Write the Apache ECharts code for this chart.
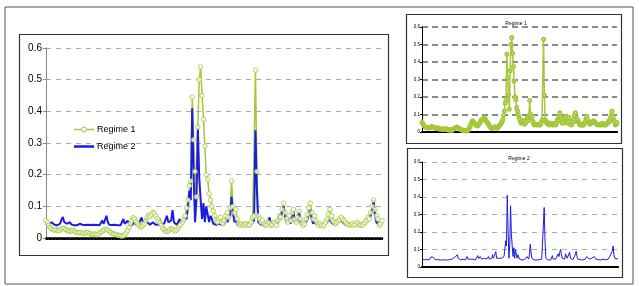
<!DOCTYPE html>
<html>
<head>
<meta charset="utf-8">
<script src="https://cdn.jsdelivr.net/npm/echarts@6/dist/echarts.min.js"></script>
<style>
html,body{margin:0;padding:0;background:#fff;}
#c{width:639px;height:286px;}
</style>
</head>
<body>
<div id="c"></div>
<script>
// ---- data ----
const regime1 = [
0.055,0.048,0.040,0.033,0.028,0.026,0.025,0.027,0.024,0.023,
0.025,0.028,0.031,0.030,0.027,0.024,0.022,0.021,0.023,0.025,
0.022,0.019,0.017,0.016,0.018,0.017,0.015,0.014,0.016,0.018,
0.017,0.014,0.012,0.011,0.013,0.012,0.010,0.012,0.015,0.018,
0.021,0.024,0.026,0.028,0.025,0.022,0.018,0.015,0.013,0.012,
0.011,0.009,0.008,0.007,0.006,0.007,0.010,0.016,0.024,0.033,
0.045,0.056,0.064,0.060,0.052,0.046,0.040,0.036,0.035,0.040,
0.046,0.055,0.066,0.072,0.068,0.075,0.082,0.078,0.070,0.062,
0.055,0.048,0.040,0.032,0.027,0.022,0.020,0.022,0.026,0.030,
0.028,0.024,0.022,0.026,0.032,0.038,0.043,0.050,0.058,0.070,
0.095,0.120,0.165,0.180,0.445,0.310,0.210,0.130,0.350,0.500,
0.540,0.450,0.375,0.290,0.200,0.185,0.140,0.120,0.100,0.085,
0.070,0.055,0.050,0.060,0.065,0.050,0.045,0.055,0.070,0.080,
0.065,0.095,0.180,0.100,0.080,0.090,0.060,0.045,0.040,0.045,
0.042,0.040,0.045,0.043,0.040,0.042,0.050,0.065,0.070,0.530,
0.210,0.070,0.060,0.050,0.055,0.045,0.040,0.042,0.050,0.045,
0.040,0.042,0.050,0.045,0.040,0.055,0.070,0.065,0.090,0.110,
0.080,0.060,0.050,0.070,0.055,0.080,0.090,0.060,0.050,0.065,
0.085,0.060,0.045,0.040,0.045,0.060,0.075,0.095,0.110,0.080,
0.060,0.070,0.055,0.045,0.040,0.045,0.040,0.038,0.042,0.050,
0.060,0.075,0.090,0.070,0.055,0.050,0.045,0.050,0.055,0.060,
0.065,0.060,0.055,0.050,0.045,0.042,0.040,0.042,0.045,0.040,
0.042,0.050,0.045,0.040,0.042,0.040,0.045,0.050,0.055,0.065,
0.060,0.080,0.100,0.120,0.090,0.070,0.060,0.040,0.045,0.055
];
const regime2 = [
0.045,0.042,0.040,0.042,0.050,0.045,0.042,0.048,0.040,0.042,
0.045,0.058,0.066,0.050,0.055,0.045,0.042,0.050,0.043,0.042,
0.040,0.042,0.040,0.041,0.045,0.040,0.042,0.040,0.041,0.040,
0.042,0.040,0.041,0.040,0.042,0.040,0.041,0.046,0.040,0.042,
0.055,0.045,0.048,0.070,0.050,0.042,0.040,0.041,0.040,0.042,
0.045,0.040,0.041,0.040,0.045,0.060,0.045,0.042,0.055,0.045,
0.042,0.040,0.045,0.050,0.042,0.040,0.045,0.050,0.065,0.048,
0.045,0.060,0.050,0.045,0.042,0.045,0.050,0.045,0.042,0.045,
0.042,0.060,0.045,0.042,0.045,0.050,0.070,0.050,0.045,0.055,
0.088,0.050,0.045,0.042,0.050,0.060,0.045,0.050,0.060,0.055,
0.060,0.100,0.150,0.120,0.410,0.200,0.050,0.120,0.350,0.190,
0.120,0.060,0.110,0.050,0.100,0.095,0.050,0.070,0.060,0.045,
0.050,0.042,0.040,0.045,0.050,0.042,0.040,0.045,0.060,0.050,
0.045,0.070,0.130,0.080,0.050,0.060,0.042,0.040,0.040,0.042,
0.040,0.041,0.040,0.042,0.040,0.041,0.045,0.050,0.055,0.340,
0.150,0.050,0.045,0.042,0.040,0.045,0.042,0.040,0.045,0.065,
0.045,0.042,0.050,0.045,0.042,0.050,0.075,0.060,0.085,0.100,
0.070,0.050,0.045,0.060,0.045,0.075,0.085,0.050,0.045,0.055,
0.085,0.050,0.042,0.040,0.042,0.050,0.060,0.075,0.090,0.060,
0.045,0.055,0.045,0.042,0.040,0.042,0.040,0.045,0.042,0.045,
0.050,0.060,0.065,0.050,0.045,0.042,0.045,0.050,0.055,0.060,
0.060,0.050,0.045,0.042,0.040,0.042,0.040,0.041,0.040,0.042,
0.040,0.045,0.042,0.040,0.041,0.040,0.042,0.045,0.050,0.060,
0.055,0.070,0.090,0.120,0.070,0.050,0.045,0.042,0.045,0.050
];
const categories = regime1.map((_, i) => String(i + 1));
const yTicks = [0, 0.1, 0.2, 0.3, 0.4, 0.5, 0.6];
const seriesNames = ['Regime 1', 'Regime 2'];

// ---- styles ----
const GREEN = '#a6c73a';
const BLUE = '#1c1ce0';
const FONT = 'Liberation Sans, Arial, sans-serif';

function xAx(gi, w) {
  return {
    type: 'category', gridIndex: gi, data: categories, boundaryGap: false,
    axisLine: {lineStyle: {color: '#000', width: w}},
    axisTick: {show: true, interval: 0, length: gi === 0 ? 2 : 1, lineStyle: {color: '#000'}},
    axisLabel: {show: false}, splitLine: {show: false}
  };
}
function yAx(gi, fs, axColor, gridColor, gw, dash) {
  return {
    type: 'value', gridIndex: gi, min: yTicks[0], max: yTicks[yTicks.length - 1], interval: 0.1,
    axisLine: {show: true, lineStyle: {color: axColor, width: 1}},
    axisTick: {show: true, length: gi === 0 ? 3 : 2, lineStyle: {color: axColor}},
    axisLabel: {fontSize: fs, color: '#000', fontFamily: FONT, margin: gi === 0 ? 4 : 2,
      formatter: v => String(Math.round(v * 10) / 10)},
    splitLine: {show: true, lineStyle: {color: gridColor, width: gw, type: dash}}
  };
}

const chart = echarts.init(document.getElementById('c'), null, {renderer: 'canvas'});
chart.setOption({
  animation: false,
  backgroundColor: '#fff',
  title: [
    {text: 'Regime 1', left: 511, top: 16, textAlign: 'center',
     textStyle: {fontSize: 5, fontWeight: 'normal', color: '#000', fontFamily: FONT}},
    {text: 'Regime 2', left: 514, top: 151, textAlign: 'center',
     textStyle: {fontSize: 5, fontWeight: 'normal', color: '#000', fontFamily: FONT}}
  ],
  graphic: [
    {type: 'rect', shape: {x: 5, y: 7, width: 628, height: 277}, style: {fill: 'none', stroke: '#555', lineWidth: 1}, silent: true},
    {type: 'rect', shape: {x: 19.5, y: 34.5, width: 369, height: 221}, style: {fill: 'none', stroke: '#333', lineWidth: 1.2}, silent: true},
    {type: 'rect', shape: {x: 406.5, y: 14.5, width: 215, height: 129}, style: {fill: 'none', stroke: '#333', lineWidth: 1.2}, silent: true},
    {type: 'rect', shape: {x: 407.5, y: 148.5, width: 215, height: 129}, style: {fill: 'none', stroke: '#333', lineWidth: 1.2}, silent: true},
    // legend
    {type: 'line', shape: {x1: 74, y1: 129.5, x2: 94, y2: 129.5}, style: {stroke: GREEN, lineWidth: 1.5}, silent: true, z: 10},
    {type: 'circle', shape: {cx: 84, cy: 129.5, r: 2.5}, style: {fill: '#fff', stroke: GREEN, lineWidth: 1}, silent: true, z: 11},
    {type: 'text', left: 97, top: 125, style: {text: seriesNames[0], fontSize: 9, fill: '#000', fontFamily: FONT}, silent: true, z: 11},
    {type: 'line', shape: {x1: 74, y1: 146.5, x2: 94, y2: 146.5}, style: {stroke: BLUE, lineWidth: 2.5}, silent: true, z: 10},
    {type: 'text', left: 97, top: 142, style: {text: seriesNames[1], fontSize: 9, fill: '#000', fontFamily: FONT}, silent: true, z: 11}
  ],
  grid: [
    {left: 46, top: 48, width: 336, height: 190},
    {left: 422, top: 27, width: 195, height: 105},
    {left: 422, top: 162, width: 196, height: 105}
  ],
  xAxis: [xAx(0, 2.5), xAx(1, 2), xAx(2, 2)],
  yAxis: [
    yAx(0, 10, '#888', '#aaa', 1, [5, 5]),
    yAx(1, 4.5, '#000', '#666', 1.5, [6, 4]),
    yAx(2, 4.5, '#000', '#aaa', 1, [5, 5])
  ],
  series: [
    {name: seriesNames[0], type: 'line', xAxisIndex: 0, yAxisIndex: 0, data: regime1,
     lineStyle: {color: GREEN, width: 1.5}, itemStyle: {color: GREEN}, showSymbol: false, symbol: 'none', z: 2},
    {name: seriesNames[1], type: 'line', xAxisIndex: 0, yAxisIndex: 0, data: regime2,
     lineStyle: {color: BLUE, width: 2}, itemStyle: {color: BLUE}, showSymbol: false, symbol: 'none', z: 3},
    {name: 'Regime 1 markers', type: 'scatter', xAxisIndex: 0, yAxisIndex: 0, data: regime1,
     symbol: 'circle', symbolSize: 4.5, itemStyle: {color: '#fff', borderColor: GREEN, borderWidth: 1}, z: 4},
    {name: 'r1small', type: 'line', xAxisIndex: 1, yAxisIndex: 1, data: regime1,
     lineStyle: {color: GREEN, width: 1.5}, itemStyle: {color: GREEN, borderColor: GREEN, borderWidth: 0.8},
     symbol: 'emptyCircle', symbolSize: 3, showAllSymbol: true},
    {name: 'r2small', type: 'line', xAxisIndex: 2, yAxisIndex: 2, data: regime2,
     lineStyle: {color: BLUE, width: 1}, showSymbol: false, symbol: 'none'}
  ]
});
</script>
</body>
</html>
